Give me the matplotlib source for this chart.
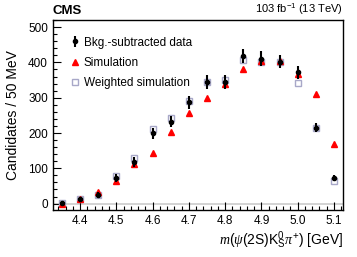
import numpy as np
import matplotlib
matplotlib.use("Agg")
import matplotlib.pyplot as plt
from matplotlib.ticker import MultipleLocator

plt.rcParams['font.family'] = ['Liberation Sans', 'DejaVu Sans']
plt.rcParams['mathtext.fontset'] = 'custom'
plt.rcParams['mathtext.rm'] = 'Liberation Sans'
plt.rcParams['mathtext.it'] = 'Liberation Serif:italic'
plt.rcParams['mathtext.cal'] = 'Liberation Serif:italic'

mass = [4.35, 4.40, 4.45, 4.50, 4.55, 4.60, 4.65, 4.70,
        4.75, 4.80, 4.85, 4.90, 4.95, 5.00, 5.05, 5.10]
data = [3, 12, 25, 73, 118, 199, 232, 287,
        345, 345, 418, 411, 402, 372, 215, 72]
data_err = [5, 6, 8, 11, 13, 15, 16, 18,
            19, 19, 20, 20, 19, 19, 13, 9]
sim = [0, 12, 33, 65, 111, 144, 202, 258,
       300, 340, 382, 403, 403, 368, 310, 168]
weighted = [2, 12, 25, 78, 128, 210, 242, 290,
            345, 350, 406, 402, 402, 342, 215, 63]

fig = plt.figure(figsize=(3.57, 2.57), dpi=100)
ax = fig.add_axes([0.148, 0.183, 0.813, 0.739])

ax.axhline(0, color='#cccccc', lw=1.2, zorder=0)

ax.plot(mass, weighted, ls='none', marker='s', ms=5, mfc='white',
        mec='#a8a8c8', mew=1.0, label='Weighted simulation', zorder=2)
ax.plot(mass, sim, ls='none', marker='^', ms=5, color='red',
        label='Simulation', zorder=3)
ax.errorbar(mass, data, yerr=data_err, fmt='o', ms=3, color='black',
            elinewidth=1.5, capsize=0, label='Bkg.-subtracted data', zorder=4)

ax.set_xlim(4.325, 5.125)
ax.set_ylim(-18, 520)
ax.xaxis.set_major_locator(MultipleLocator(0.1))
ax.xaxis.set_minor_locator(MultipleLocator(0.02))
ax.yaxis.set_major_locator(MultipleLocator(100))
ax.yaxis.set_minor_locator(MultipleLocator(20))
ax.tick_params(which='both', direction='in', top=False, right=False,
               labelsize=8.5)
ax.tick_params(which='major', length=6, width=0.8)
ax.tick_params(which='minor', length=3, width=0.8)
ax.set_xticks([4.4, 4.5, 4.6, 4.7, 4.8, 4.9, 5.0, 5.1])
ax.set_xticklabels(['4.4', '4.5', '4.6', '4.7', '4.8', '4.9', '5.0', '5.1'])
for s in ax.spines.values():
    s.set_linewidth(1.0)

ax.set_ylabel('Candidates / 50 MeV', fontsize=10, labelpad=6)
ax.set_xlabel(r'$m(\psi(2\mathrm{S})\mathrm{K}^{0}_{\mathrm{S}}\pi^{+})$ [GeV]',
              fontsize=10, loc='right', labelpad=2)

handles, labels = ax.get_legend_handles_labels()
order = [2, 1, 0]
ax.legend([handles[i] for i in order], [labels[i] for i in order],
          loc='upper left', frameon=False, fontsize=8.5,
          handletextpad=0.2, labelspacing=0.7, borderpad=0.9,
          handlelength=1.0)

fig.text(0.148, 0.935, 'CMS', fontsize=9.5, fontweight='bold', ha='left', va='bottom')
fig.text(0.961, 0.935, r'103 fb$^{-1}$ (13 TeV)', fontsize=8, ha='right', va='bottom')

fig.savefig('out.png', dpi=100)
